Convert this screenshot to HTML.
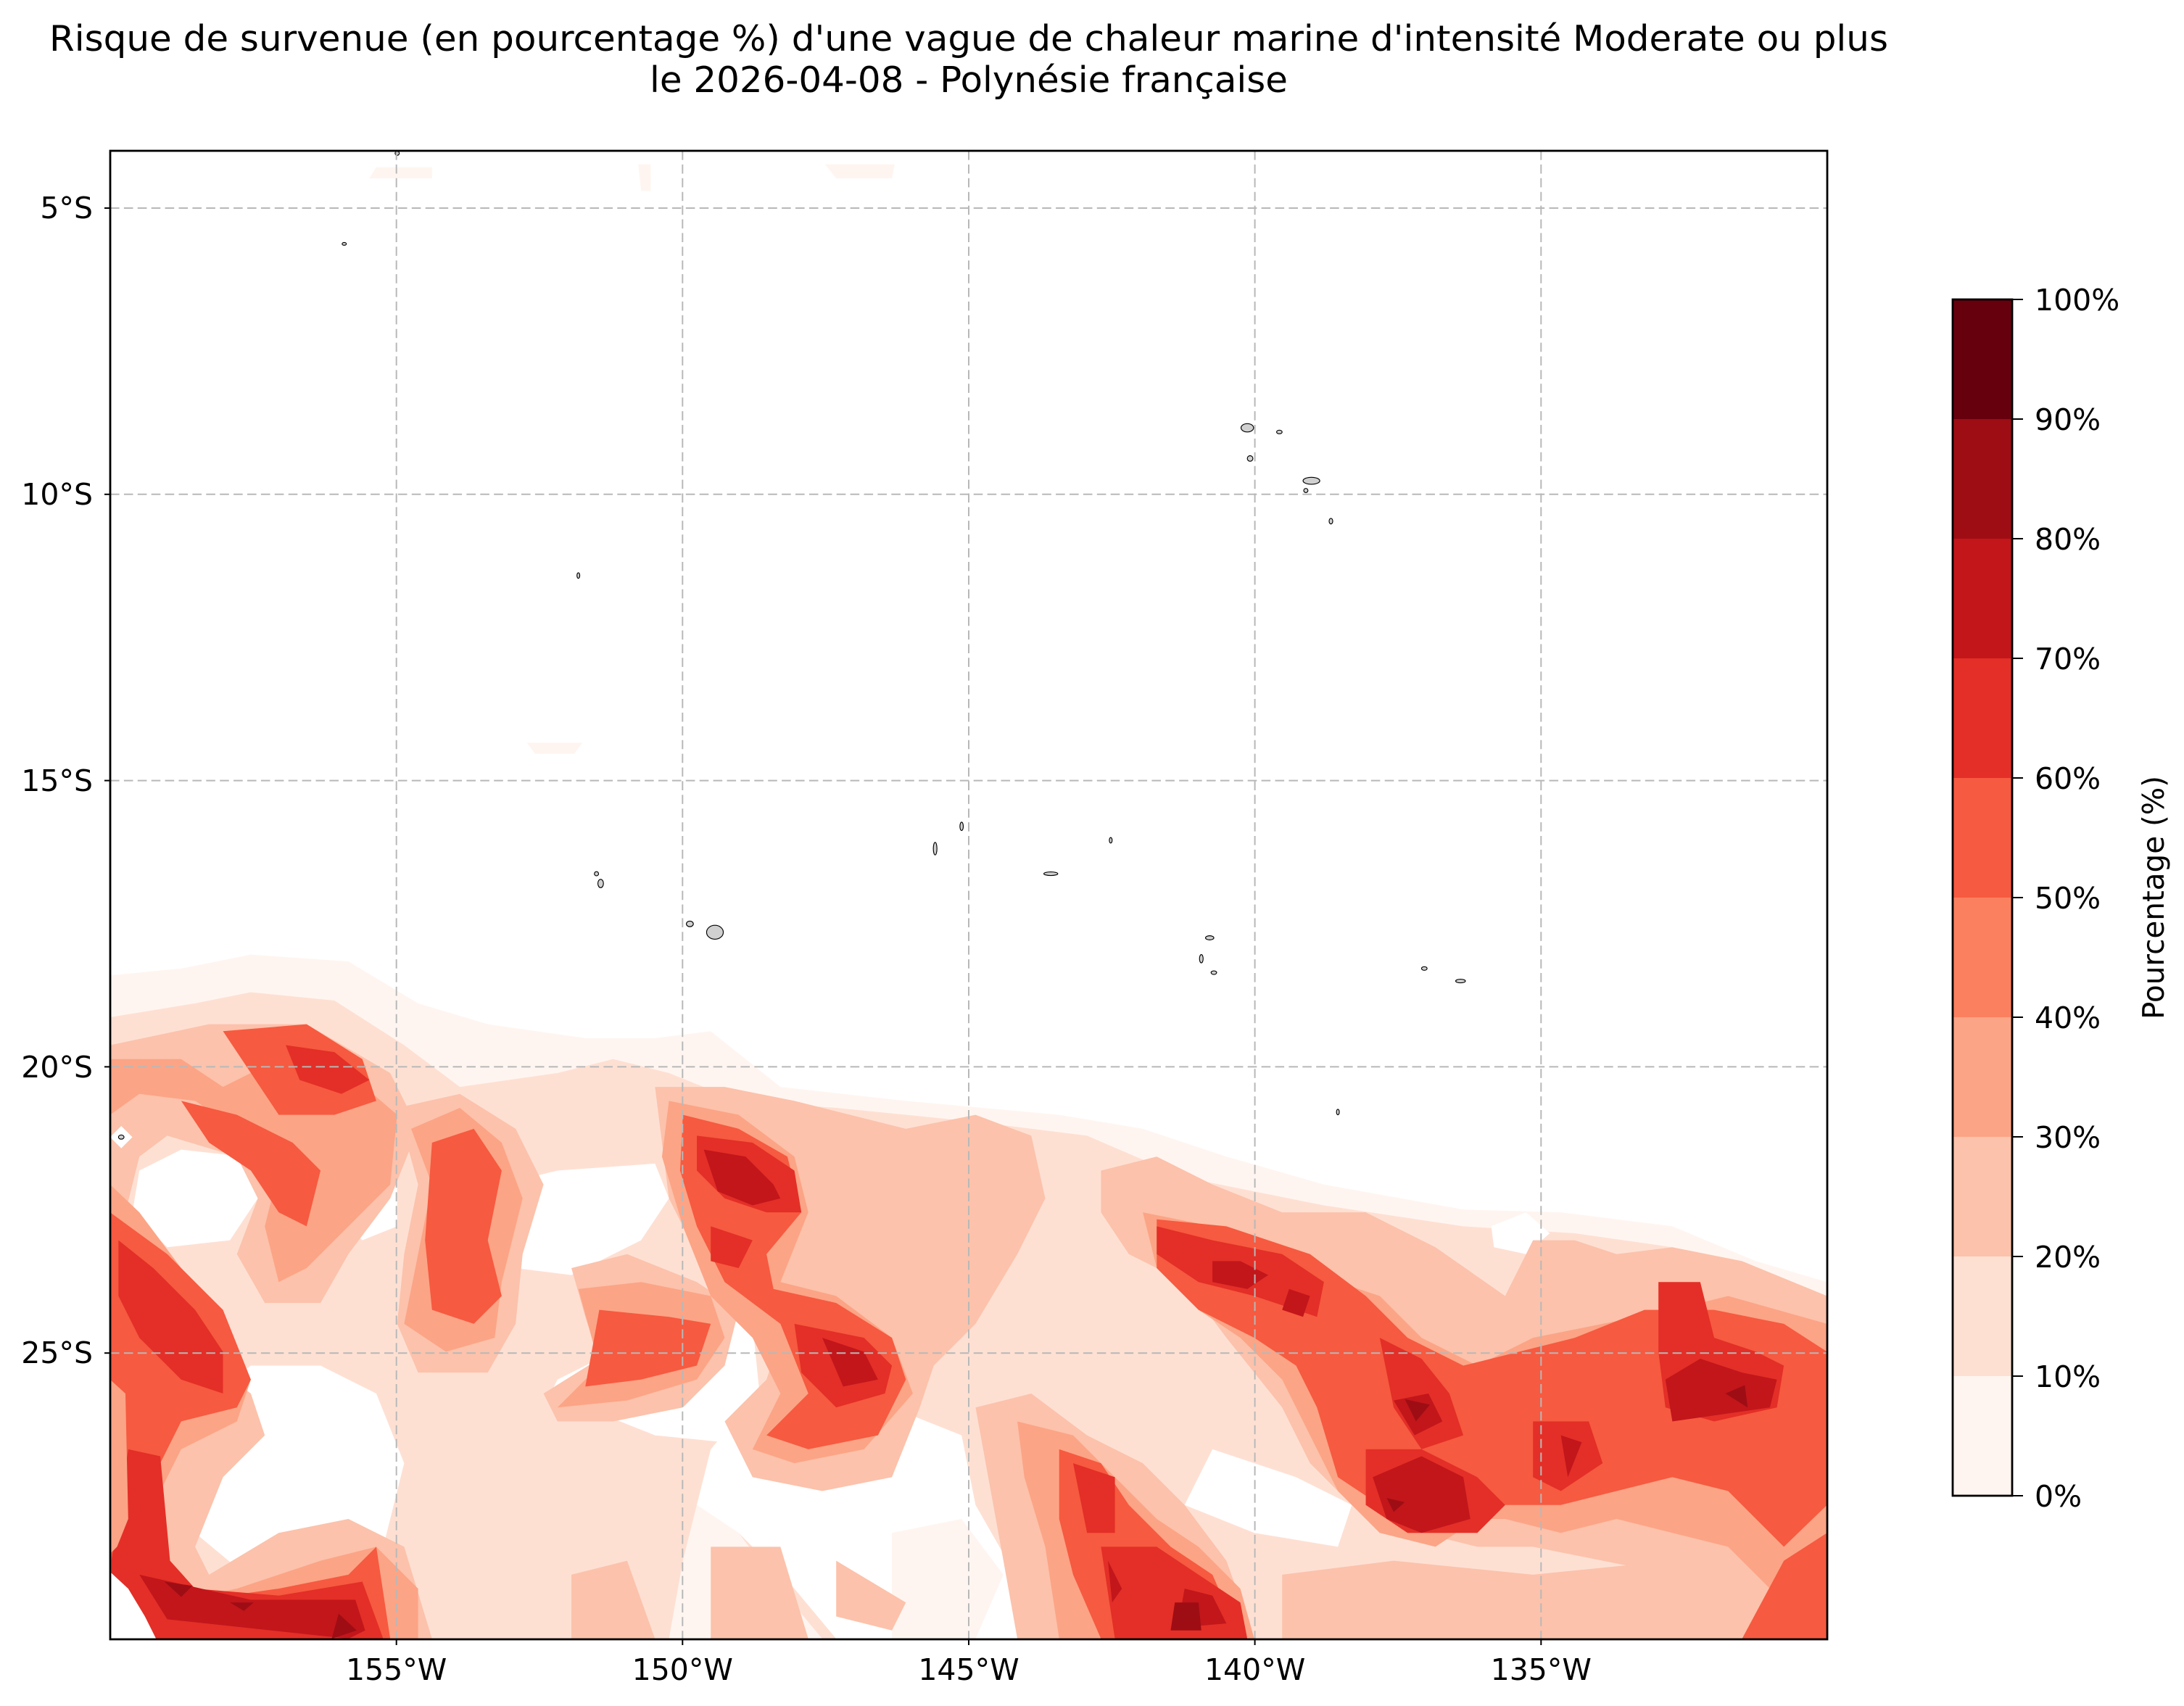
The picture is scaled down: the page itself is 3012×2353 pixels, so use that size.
<!DOCTYPE html>
<html><head><meta charset="utf-8"><style>
html,body{margin:0;padding:0;background:#fff;}
svg{display:block;}
text{font-family:"DejaVu Sans","Liberation Sans",sans-serif;fill:#000;}
</style></head><body>
<svg width="3012" height="2353" viewBox="0 0 3012 2353" xmlns="http://www.w3.org/2000/svg">
<rect x="0" y="0" width="3012" height="2353" fill="#fff"/>
<defs><clipPath id="ax"><rect x="79.1" y="108.2" width="1232" height="1068"/></clipPath></defs>
<g transform="scale(1.922)" clip-path="url(#ax)">
<g fill="#fff5f0">
<polygon points="265,128 270,120 310,120 310,128"/>
<polygon points="458,118 467,118 467,137 460,137"/>
<polygon points="592,118 642,118 640,128 600,128"/>
<polygon points="378,533 418,533 412,541 384,541"/>
</g>
<path fill="#fff5f0" d="M79,700 L130,695 180,685 250,690 300,720 350,735 420,745 470,745 510,740 560,780 650,790 760,800 820,810 880,830 950,850 1050,868 1120,870 1200,880 1260,905 1311,920 L1311,1176 L79,1176 Z"/>
<path fill="#fee0d3" d="M79,730 L140,720 180,712 240,718 290,750 330,780 400,770 440,760 480,770 530,790 600,795 700,805 780,815 850,845 950,865 1050,880 1130,885 1200,895 1260,915 1311,935 L1311,1176 L79,1176 Z"/>
<g fill="#fff">
<polygon points="100,840 130,825 175,830 185,860 165,890 120,895 95,870"/>
<polygon points="140,1010 180,980 230,980 270,1000 290,1050 275,1110 230,1120 170,1125 140,1100 135,1050"/>
<polygon points="240,830 270,815 285,830 285,880 260,890 240,870"/>
<polygon points="360,850 400,840 470,835 480,860 460,890 410,915 370,910 355,880"/>
<polygon points="400,990 460,960 500,945 540,950 545,1000 520,1035 470,1030 420,1010 395,1000"/>
<polygon points="535,1010 560,1000 600,1030 640,1010 690,1030 700,1080 740,1150 730,1176 600,1176 570,1140 530,1100 500,1080 510,1040"/>
<polygon points="870,1040 930,1060 970,1080 960,1110 900,1100 850,1080"/>
<polygon points="1070,880 1095,870 1112,885 1095,900 1072,895"/>
</g>
<g fill="#fff5f0">
<polygon points="500,1080 530,1100 560,1140 590,1176 480,1176 490,1120"/>
<polygon points="640,1100 690,1090 720,1130 700,1176 640,1176"/>
</g>
<g fill="#fcc2ab">
<polygon points="79,750 150,735 220,735 280,770 300,810 280,860 250,900 230,935 190,935 170,900 185,860 170,830 120,815 100,830 90,870 100,930 140,970 180,1000 190,1030 160,1060 140,1110 150,1130 200,1100 250,1090 290,1110 310,1176 79,1176"/>
<polygon points="285,795 330,785 370,810 390,850 375,900 370,950 350,985 300,985 285,950 290,900 300,850"/>
<polygon points="410,910 450,900 500,920 530,940 520,980 490,1010 440,1020 400,1020 390,1000 430,975 420,945"/>
<polygon points="470,780 520,780 570,790 610,800 650,810 700,800 740,815 750,860 730,900 700,950 670,980 660,1010 640,1060 590,1070 540,1060 520,1020 550,990 560,960 540,920 500,900 480,860"/>
<polygon points="700,1010 740,1000 780,1030 820,1050 850,1080 880,1120 900,1176 730,1176 720,1120"/>
<polygon points="790,840 830,830 870,850 920,870 980,870 1030,895 1080,930 1100,890 1130,890 1160,900 1200,895 1250,905 1311,930 1311,1176 1250,1150 1200,1130 1150,1120 1100,1110 1060,1110 1020,1100 970,1080 940,1050 920,1010 880,960 850,920 810,900 790,870"/>
<polygon points="920,1130 1000,1120 1100,1130 1200,1120 1311,1100 1311,1176 920,1176"/>
<polygon points="410,1130 450,1120 470,1176 410,1176"/>
<polygon points="510,1110 560,1110 580,1176 510,1176"/>
<polygon points="600,1120 650,1150 640,1170 600,1160"/>
</g>
<g fill="#fca486">
<polygon points="79,760 130,760 160,780 200,760 250,770 285,800 280,850 250,880 220,910 200,920 190,880 200,840 170,810 140,790 100,785 79,800"/>
<polygon points="79,850 100,870 130,910 160,950 180,990 170,1020 130,1040 110,1080 100,1120 120,1150 170,1140 230,1120 270,1110 300,1140 300,1176 79,1176"/>
<polygon points="295,810 330,795 360,820 375,860 360,920 355,960 320,970 290,950 300,900 310,850"/>
<polygon points="415,925 460,920 510,930 520,960 500,990 450,1005 400,1010 430,980"/>
<polygon points="480,790 530,800 570,830 580,870 560,920 600,930 640,960 655,1000 620,1040 570,1050 540,1040 560,1000 540,960 510,930 490,880 475,830"/>
<polygon points="820,870 870,880 930,900 960,920 990,930 1020,960 1060,980 1100,960 1150,950 1200,940 1240,930 1311,950 1311,1176 1280,1150 1240,1110 1200,1100 1160,1090 1120,1100 1080,1090 1060,1090 1030,1110 990,1100 960,1070 940,1030 920,990 890,960 860,940 830,910"/>
<polygon points="730,1020 770,1030 800,1060 830,1090 860,1110 890,1140 900,1176 760,1176 750,1110 735,1060"/>
</g>
<g fill="#f65a40">
<polygon points="160,740 220,735 260,760 270,790 240,800 200,800"/>
<polygon points="130,790 170,800 210,820 230,840 220,880 200,870 180,840 150,820"/>
<polygon points="79,870 120,900 160,940 180,990 170,1010 130,1020 110,1060 100,1120 130,1150 200,1140 250,1130 270,1110 280,1176 79,1176"/>
<polygon points="310,820 340,810 360,840 350,890 360,930 340,950 310,940 305,890"/>
<polygon points="430,940 480,945 510,950 500,980 460,990 420,995"/>
<polygon points="490,800 530,810 565,830 575,870 550,900 555,925 600,935 640,960 650,990 630,1030 580,1040 550,1030 580,1000 560,950 520,920 500,880 488,840"/>
<polygon points="830,875 880,880 940,900 980,930 1010,960 1050,980 1090,970 1130,960 1180,940 1230,940 1280,950 1311,970 1311,1080 1280,1110 1240,1070 1200,1060 1160,1070 1120,1080 1080,1080 1060,1100 1020,1090 990,1080 960,1060 945,1010 930,980 900,960 860,940 830,910"/>
<polygon points="760,1040 790,1050 810,1080 840,1110 870,1130 890,1176 790,1176 770,1130 760,1090"/>
<polygon points="1280,1120 1311,1100 1311,1176 1250,1176"/>
</g>
<g fill="#e32f27">
<polygon points="205,750 240,755 265,775 245,785 215,775"/>
<polygon points="85,890 110,910 140,940 160,970 160,1000 130,990 100,960 85,930"/>
<polygon points="92,1040 115,1045 122,1120 140,1140 200,1145 260,1135 275,1176 80,1176 80,1120"/>
<polygon points="500,815 540,820 570,840 575,870 550,870 520,860 500,840"/>
<polygon points="510,880 540,890 530,910 510,905"/>
<polygon points="570,950 620,960 640,980 635,1000 600,1010 575,985"/>
<polygon points="830,880 870,890 920,900 950,920 945,945 900,930 860,920 830,900"/>
<polygon points="990,960 1020,975 1040,1000 1050,1030 1020,1040 1000,1010"/>
<polygon points="980,1040 1020,1040 1060,1060 1080,1080 1060,1100 1010,1100 980,1080"/>
<polygon points="1100,1020 1140,1020 1150,1050 1120,1070 1100,1060"/>
<polygon points="1190,920 1220,920 1230,960 1260,970 1280,980 1275,1010 1230,1020 1195,1010 1190,970"/>
<polygon points="770,1050 800,1060 800,1100 780,1100"/>
<polygon points="790,1110 830,1110 860,1130 890,1150 895,1176 800,1176"/>
</g>
<g fill="#fca486">
<polygon points="79,990 90,1000 92,1090 84,1110 79,1115"/>
</g>
<g fill="#fff">
<polygon points="79,1128 92,1140 104,1160 112,1176 79,1176"/>
</g>
<g fill="#c2161b">
<polygon points="505,825 535,830 555,850 560,860 540,865 515,855"/>
<polygon points="870,905 890,905 910,915 895,925 870,920"/>
<polygon points="925,925 940,930 935,945 920,940"/>
<polygon points="1000,1005 1025,1000 1035,1020 1015,1030"/>
<polygon points="985,1060 1020,1045 1050,1060 1055,1090 1020,1100 995,1090"/>
<polygon points="1195,990 1220,975 1250,985 1275,990 1270,1010 1200,1020"/>
<polygon points="590,960 620,970 630,990 605,995"/>
<polygon points="850,1140 870,1145 880,1165 845,1168"/>
<polygon points="795,1120 805,1140 798,1150"/>
<polygon points="100,1130 180,1148 255,1148 262,1170 250,1176 120,1162"/>
<polygon points="1120,1030 1135,1035 1125,1060"/>
</g>
<g fill="#9e0d14">
<polygon points="1008,1004 1026,1008 1016,1020"/>
<polygon points="995,1075 1008,1078 1000,1085"/>
<polygon points="1238,1000 1252,994 1254,1010"/>
<polygon points="843,1150 860,1150 862,1170 840,1170"/>
<polygon points="118,1135 138,1138 130,1146"/>
<polygon points="165,1150 182,1150 175,1156"/>
<polygon points="243,1158 256,1170 238,1176"/>
</g>
<g fill="#d0d0d0" stroke="#000" stroke-width="0.6">
<ellipse cx="285" cy="110" rx="1.5" ry="1.5"/>
<ellipse cx="247" cy="175" rx="1.5" ry="1"/>
<ellipse cx="415" cy="413" rx="1" ry="2"/>
<ellipse cx="895" cy="307" rx="4.5" ry="3"/>
<ellipse cx="918" cy="310" rx="2" ry="1.3"/>
<ellipse cx="897" cy="329" rx="2" ry="2"/>
<ellipse cx="941" cy="345" rx="6" ry="2.5"/>
<ellipse cx="937" cy="352" rx="1.5" ry="1.5"/>
<ellipse cx="955" cy="374" rx="1.3" ry="2"/>
<ellipse cx="428" cy="627" rx="1.5" ry="1.5"/>
<ellipse cx="431" cy="634" rx="2" ry="3"/>
<ellipse cx="495" cy="663" rx="2.5" ry="2"/>
<ellipse cx="513" cy="669" rx="6" ry="5"/>
<ellipse cx="671" cy="609" rx="1.3" ry="4.5"/>
<ellipse cx="690" cy="593" rx="1.2" ry="3"/>
<ellipse cx="754" cy="627" rx="5" ry="1.3"/>
<ellipse cx="797" cy="603" rx="1" ry="2"/>
<ellipse cx="868" cy="673" rx="3" ry="1.5"/>
<ellipse cx="862" cy="688" rx="1.3" ry="3"/>
<ellipse cx="871" cy="698" rx="2" ry="1.3"/>
<ellipse cx="1022" cy="695" rx="2" ry="1.3"/>
<ellipse cx="1048" cy="704" rx="3.5" ry="1.3"/>
<ellipse cx="960" cy="798" rx="1" ry="2"/>
</g>
<polygon points="87,808 95,816 87,824 79,816" fill="#fff"/>
<ellipse cx="87" cy="816" rx="2" ry="1.5" fill="#d0d0d0" stroke="#000" stroke-width="0.6"/>
</g>
<g stroke="#b8b8b8" stroke-width="2" stroke-dasharray="12.6,6.3" fill="none">
<line x1="546.7" y1="208" x2="546.7" y2="2261"/>
<line x1="941.3" y1="208" x2="941.3" y2="2261"/>
<line x1="1336" y1="208" x2="1336" y2="2261"/>
<line x1="1730.6" y1="208" x2="1730.6" y2="2261"/>
<line x1="2125.3" y1="208" x2="2125.3" y2="2261"/>
<line x1="152" y1="287" x2="2520" y2="287"/>
<line x1="152" y1="681.8" x2="2520" y2="681.8"/>
<line x1="152" y1="1076.6" x2="2520" y2="1076.6"/>
<line x1="152" y1="1471.4" x2="2520" y2="1471.4"/>
<line x1="152" y1="1866.2" x2="2520" y2="1866.2"/>
</g>
<rect x="152" y="208" width="2368" height="2053" fill="none" stroke="#000" stroke-width="2.8"/>
<g stroke="#000" stroke-width="2">
<line x1="546.7" y1="2261" x2="546.7" y2="2269"/>
<line x1="941.3" y1="2261" x2="941.3" y2="2269"/>
<line x1="1336" y1="2261" x2="1336" y2="2269"/>
<line x1="1730.6" y1="2261" x2="1730.6" y2="2269"/>
<line x1="2125.3" y1="2261" x2="2125.3" y2="2269"/>
<line x1="144" y1="287" x2="152" y2="287"/>
<line x1="144" y1="681.8" x2="152" y2="681.8"/>
<line x1="144" y1="1076.6" x2="152" y2="1076.6"/>
<line x1="144" y1="1471.4" x2="152" y2="1471.4"/>
<line x1="144" y1="1866.2" x2="152" y2="1866.2"/>
</g>
<g font-size="41" text-anchor="middle">
<text x="546.7" y="2317">155°W</text>
<text x="941.3" y="2317">150°W</text>
<text x="1336" y="2317">145°W</text>
<text x="1730.6" y="2317">140°W</text>
<text x="2125.3" y="2317">135°W</text>
</g>
<g font-size="41" text-anchor="end">
<text x="128" y="301">5°S</text>
<text x="128" y="696">10°S</text>
<text x="128" y="1091">15°S</text>
<text x="128" y="1486">20°S</text>
<text x="128" y="1880">25°S</text>
</g>
<text x="1336" y="70" font-size="49" text-anchor="middle" textLength="2536" lengthAdjust="spacingAndGlyphs">Risque de survenue (en pourcentage %) d'une vague de chaleur marine d'intensité Moderate ou plus</text>
<text x="1336" y="127" font-size="49" text-anchor="middle" textLength="880" lengthAdjust="spacingAndGlyphs">le 2026-04-08 - Polynésie française</text>
<g>
<rect x="2693" y="413" width="82" height="165" fill="#67000d"/>
<rect x="2693" y="578" width="82" height="165" fill="#9e0d14"/>
<rect x="2693" y="743" width="82" height="165" fill="#c2161b"/>
<rect x="2693" y="908" width="82" height="165" fill="#e32f27"/>
<rect x="2693" y="1073" width="82" height="165" fill="#f65a40"/>
<rect x="2693" y="1238" width="82" height="165" fill="#fb8060"/>
<rect x="2693" y="1403" width="82" height="165" fill="#fca486"/>
<rect x="2693" y="1568" width="82" height="165" fill="#fcc2ab"/>
<rect x="2693" y="1733" width="82" height="165" fill="#fee0d3"/>
<rect x="2693" y="1898" width="82" height="165" fill="#fff5f0"/>
<rect x="2693" y="413" width="82" height="1650" fill="none" stroke="#000" stroke-width="2.8"/>
</g>
<g stroke="#000" stroke-width="2">
<line x1="2775" y1="413" x2="2790" y2="413"/>
<line x1="2775" y1="578" x2="2790" y2="578"/>
<line x1="2775" y1="743" x2="2790" y2="743"/>
<line x1="2775" y1="908" x2="2790" y2="908"/>
<line x1="2775" y1="1073" x2="2790" y2="1073"/>
<line x1="2775" y1="1238" x2="2790" y2="1238"/>
<line x1="2775" y1="1403" x2="2790" y2="1403"/>
<line x1="2775" y1="1568" x2="2790" y2="1568"/>
<line x1="2775" y1="1733" x2="2790" y2="1733"/>
<line x1="2775" y1="1898" x2="2790" y2="1898"/>
<line x1="2775" y1="2063" x2="2790" y2="2063"/>
</g>
<g font-size="41">
<text x="2806" y="428">100%</text>
<text x="2806" y="593">90%</text>
<text x="2806" y="758">80%</text>
<text x="2806" y="923">70%</text>
<text x="2806" y="1088">60%</text>
<text x="2806" y="1253">50%</text>
<text x="2806" y="1418">40%</text>
<text x="2806" y="1583">30%</text>
<text x="2806" y="1748">20%</text>
<text x="2806" y="1913">10%</text>
<text x="2806" y="2078">0%</text>
</g>
<text transform="translate(2984,1238) rotate(-90)" font-size="41" text-anchor="middle" textLength="336" lengthAdjust="spacingAndGlyphs">Pourcentage (%)</text>
</svg>
</body></html>
